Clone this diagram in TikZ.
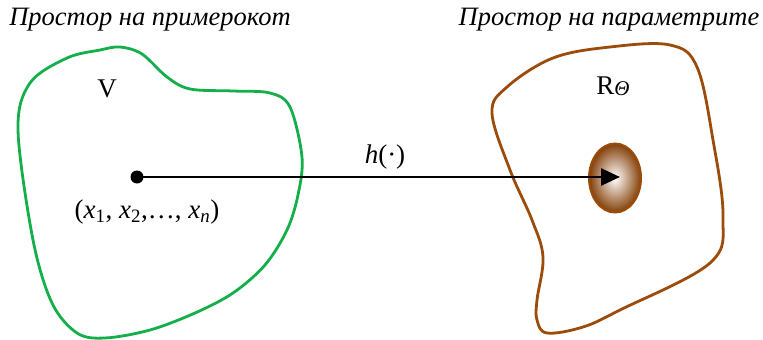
\documentclass[tikz,border=0pt]{standalone}
\usepackage{fontspec}
\setmainfont{Liberation Serif}
\usetikzlibrary{arrows.meta,shapes.geometric}
\definecolor{sgreen}{RGB}{20,175,75}
\definecolor{sbrown}{RGB}{155,75,10}
\begin{document}
\begin{tikzpicture}[x=1pt,y=-1pt,
  title/.style={font=\fontsize{26.5}{30}\selectfont\itshape, inner sep=0pt},
  lbl/.style={font=\fontsize{27}{31}\selectfont, inner sep=0pt},
  region/.style={line width=2.8pt, line join=round},
  arr/.style={line width=2.6pt, -{Triangle[length=19pt,width=17pt]}}]
\useasboundingbox (0,0) rectangle (763,340);
\node[title] (t1) at (150,20) {Простор на примерокот};
\node[title] (t2) at (609,20) {Простор на параметрите};
\draw[region, sgreen] plot[smooth cycle, tension=0.55] coordinates {
 (120,47) (142,54) (167,77) (190,89) (233,91) (270,93) (290,107) (302,157) (298,195)
 (287,230) (265,265) (233,293) (195,313) (150,330) (105,338) (77,333) (52,303) (33,240)
 (18,130) (30,83) (67,58) (100,50)};
\draw[region, sbrown] plot[smooth cycle, tension=0.6] coordinates {
 (610,47) (670,45) (697,67) (713,140) (723,217) (710,263) (620,310) (583,327) (547,333)
 (537,320) (537,300) (543,257) (532,220) (510,170) (492,113) (507,87) (553,58)};
\node[lbl] (V) at (107,89) {V};
\node[lbl] (R) at (613,86) {R\raisebox{-1pt}{\fontsize{21}{24}\selectfont\itshape Θ}};
\node[ellipse, minimum width=52pt, minimum height=69pt, inner sep=0pt, draw=sbrown, line width=2pt,
  shade, shading=radial, inner color=white, outer color=sbrown!85!black] (e) at (615,178) {};
\node[circle, fill=black, minimum size=13pt, inner sep=0pt] (p) at (137,177) {};
\coordinate (tip) at (620,177);
\draw[arr] (p.center) -- (tip);
\node[lbl] (h) at (385,157) {\textit{h}(·)};
\node[lbl] (xs) at (147,212) {(\textit{x}\textsubscript{1}, \textit{x}\textsubscript{2},…, \textit{x\textsubscript{n}})};
\end{tikzpicture}
\end{document}
